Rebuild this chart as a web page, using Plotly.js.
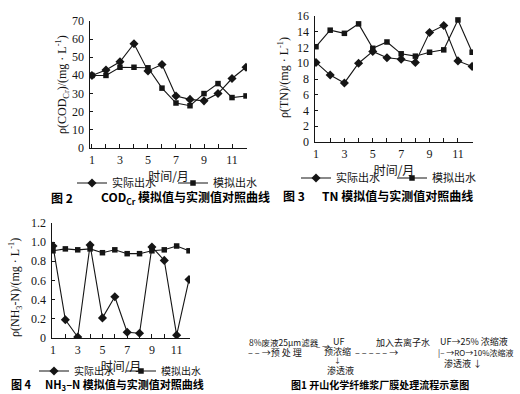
<!DOCTYPE html>
<html><head><meta charset="utf-8">
<script src="https://cdn.plot.ly/plotly-3.0.1.min.js"></script>
<style>html,body{margin:0;padding:0;background:#fff}#c{width:520px;height:394px}</style>
</head><body><div id="c"></div>
<script>
const months = [1,2,3,4,5,6,7,8,9,10,11,12];
const monthTickText = ['1','','3','','5','','7','','9','','11',''];
const seriesNames = ['实际出水','模拟出水'];

const codActual = [40,43,47.5,57.5,42.5,46,28.7,26.8,26,30,38.3,44.5];
const codSim    = [40,40,44.5,44.5,44.2,33,24.8,23.3,30,35.5,27.8,28.7];
const codTicks  = [0,10,20,30,40,50,60,70];
const codTickText = ['0','10','20','30','40','50','60','70'];

const tnActual = [10.1,8.5,7.5,10,11.5,10.7,10.5,10.1,13.9,14.8,10.3,9.6];
const tnSim    = [12.1,14.2,13.8,15,11.9,12.7,11.2,10.9,11.4,11.7,15.5,11.4];
const tnTicks  = [0,2,4,6,8,10,12,14,16];
const tnTickText = ['0','2','4','6','8','10','12','14','16'];

const nhActual = [0.96,0.19,0.01,0.97,0.21,0.43,0.06,0.05,0.95,0.81,0.03,0.61];
const nhSim    = [0.91,0.93,0.92,0.93,0.89,0.92,0.88,0.88,0.91,0.92,0.96,0.91];
const nhTicks  = [0,0.2,0.4,0.6,0.8,1.0,1.2];
const nhTickText = ['0','0.2','0.4','0.6','0.8','1.0','1.2'];

const W = 520, H = 394;
const px = v => v / W;
const py = v => 1 - v / H;
const serif = 'Liberation Serif, Times New Roman, serif';
const cjk = 'Noto Sans CJK SC, sans-serif';
const ink = '#151515';

function mk(y, name, sym, xa, ya, leg) {
  return {x: months, y: y, name: name, type: 'scatter', mode: 'lines+markers',
    xaxis: xa, yaxis: ya, legend: leg, showlegend: true,
    line: {color: ink, width: 1.1},
    marker: {symbol: sym, size: sym === 'diamond' ? 7 : 5.5, color: ink}};
}
const traces = [
  mk(codActual, seriesNames[0], 'diamond', 'x', 'y', 'legend'),
  mk(codSim, seriesNames[1], 'square', 'x', 'y', 'legend'),
  mk(tnActual, seriesNames[0], 'diamond', 'x2', 'y2', 'legend2'),
  mk(tnSim, seriesNames[1], 'square', 'x2', 'y2', 'legend2'),
  mk(nhActual, seriesNames[0], 'diamond', 'x3', 'y3', 'legend3'),
  mk(nhSim, seriesNames[1], 'square', 'x3', 'y3', 'legend3')
];

function xax(d0, d1, r0, r1, anchor) {
  return {domain: [px(d0), px(d1)], range: [r0, r1], anchor: anchor, automargin: true,
    title: {text: '时间/月', font: {family: cjk, size: 12, color: ink}, standoff: 3},
    tickvals: months, ticktext: monthTickText, ticks: 'inside', ticklen: 4,
    ticklabeloverflow: 'allow',
    tickcolor: ink, showline: true, linecolor: ink, linewidth: 1.2,
    showgrid: false, zeroline: false, fixedrange: true,
    tickfont: {family: serif, size: 12, color: ink}};
}
function yax(d0, d1, r0, r1, anchor, tv) {
  return {domain: [py(d0), py(d1)], range: [r0, r1], anchor: anchor, automargin: false,
    tickvals: tv, showticklabels: false, ticks: 'inside', ticklen: 3,
    tickcolor: ink, showline: true, linecolor: ink, linewidth: 1.2,
    showgrid: false, zeroline: false, fixedrange: true};
}
function leg(x, y, ew, fs) {
  return {x: px(x), y: py(y), xanchor: 'left', yanchor: 'middle', orientation: 'h',
    entrywidth: ew, entrywidthmode: 'pixels', itemwidth: 30,
    bgcolor: 'rgba(0,0,0,0)', font: {family: cjk, size: fs, color: ink}};
}
function ann(text, x, y, opts) {
  return Object.assign({text: text, x: px(x), y: py(y), xref: 'paper', yref: 'paper',
    showarrow: false, xanchor: 'left', yanchor: 'middle',
    font: {family: cjk, size: 12, color: ink}}, opts || {});
}
// y tick labels placed through each subplot's own axes (data coordinates)
function yLabels(xref, yref, xStart, vals, texts) {
  return vals.map((v, i) => ({text: texts[i], x: xStart, y: v, xref: xref, yref: yref,
    showarrow: false, xanchor: 'right', yanchor: 'middle', xshift: -4,
    font: {family: serif, size: 12, color: ink}}));
}
const capFont = {family: cjk, size: 12, color: '#000', weight: 'bold'};
const capFont3 = {family: cjk, size: 11, color: '#000', weight: 'bold'};
const flowFont = {family: cjk, size: 9, color: ink};
const ytFont = {family: serif, size: 12, color: ink};

const xr1 = [0.86, 12.07], xr2 = [0.93, 12.06], xr3 = [0.92, 12.08];

const annotations = [].concat(
  yLabels('x', 'y', xr1[0], codTicks, codTickText),
  yLabels('x2', 'y2', xr2[0], tnTicks, tnTickText),
  yLabels('x3', 'y3', xr3[0], nhTicks, nhTickText),
  [
  ann('ρ(COD<sub>Cr</sub>)/(mg · L<sup>-1</sup>)', 62, 85, {xanchor: 'center', textangle: -90, font: ytFont}),
  ann('ρ(TN)/(mg · L<sup>-1</sup>)', 283, 78, {xanchor: 'center', textangle: -90, font: ytFont}),
  ann('ρ(NH<sub>3</sub>-N)/(mg · L<sup>-1</sup>)', 15, 288, {xanchor: 'center', textangle: -90, font: ytFont}),
  ann('图 2', 49, 198, {font: capFont}),
  ann('COD<sub>Cr</sub> 模拟值与实测值对照曲线', 99, 198, {font: capFont}),
  ann('图 3', 281, 195, {font: capFont}),
  ann('TN 模拟值与实测值对照曲线', 320, 195, {font: capFont}),
  ann('图 4', 9, 384, {font: capFont3}),
  ann('NH<sub>3</sub>–N 模拟值与实测值对照曲线', 43, 384, {font: capFont3}),
  ann('8%废液25μm滤器', 247, 342, {font: {family: cjk, size: 8.5, color: ink}}),
  ann('– – →预 处 理', 246, 352, {font: flowFont}),
  ann('– →', 314, 346, {font: {family: cjk, size: 8, color: ink}}),
  ann('UF', 338, 341, {xanchor: 'center', font: flowFont}),
  ann('预浓缩', 337, 351, {xanchor: 'center', font: flowFont}),
  ann('↓', 337, 360, {xanchor: 'center', font: {family: cjk, size: 7, color: ink}}),
  ann('渗透液', 340, 370, {xanchor: 'center', font: flowFont}),
  ann('加入去离子水', 374, 342, {font: flowFont}),
  ann('– – – – – →', 353, 352, {font: flowFont}),
  ann('UF→25% 浓缩液', 438, 341, {font: flowFont}),
  ann('|– →RO→10%浓缩液', 436, 352, {font: {family: cjk, size: 8, color: ink}}),
  ann('渗透液 ↓', 442, 363, {font: flowFont}),
  ann('图1 开山化学纤维浆厂膜处理流程示意图', 380, 384, {xanchor: 'center', font: {family: cjk, size: 10, color: '#000', weight: 'bold'}})
  ]
);

const layout = {
  width: W, height: H, margin: {l: 0, r: 0, t: 0, b: 0, autoexpand: false},
  paper_bgcolor: '#fff', plot_bgcolor: 'rgba(0,0,0,0)',
  xaxis: xax(90, 247, xr1[0], xr1[1], 'y'),
  yaxis: yax(148, 21, 0, 70, 'x', codTicks),
  xaxis2: xax(315, 473, xr2[0], xr2[1], 'y2'),
  yaxis2: yax(142, 16, 0, 16, 'x2', tnTicks),
  xaxis3: xax(52, 190, xr3[0], xr3[1], 'y3'),
  yaxis3: yax(338, 223, 0, 1.2, 'x3', nhTicks),
  legend: leg(72, 183, 56, 11),
  legend2: leg(296, 178, 51, 11),
  legend3: leg(34, 371, 42, 10),
  annotations: annotations
};
Plotly.newPlot('c', traces, layout, {staticPlot: true});
</script></body></html>
